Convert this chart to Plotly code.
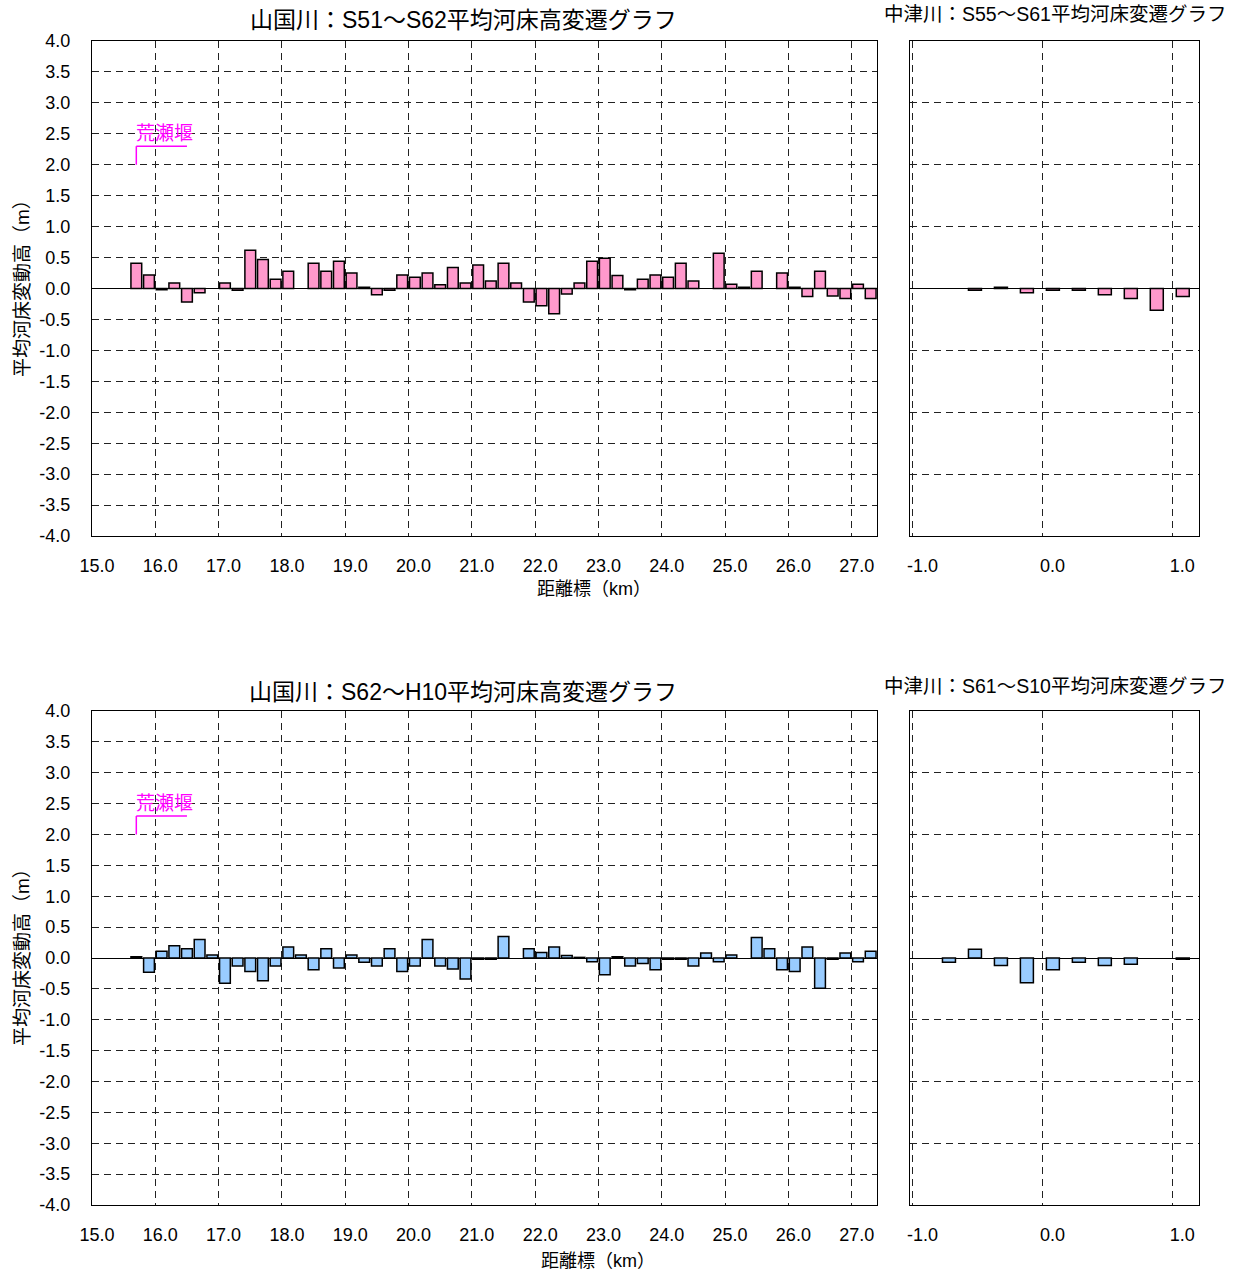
import plotly.graph_objects as go

# --- data -------------------------------------------------------------
# 山国川 distance markers (km) and mean riverbed change (m)
yamakuni_km = [15.6, 15.8, 16.0, 16.2, 16.4, 16.6, 16.8, 17.0, 17.2, 17.4,
               17.6, 17.8, 18.0, 18.2, 18.4, 18.6, 18.8, 19.0, 19.2, 19.4,
               19.6, 19.8, 20.0, 20.2, 20.4, 20.6, 20.8, 21.0, 21.2, 21.4,
               21.6, 21.8, 22.0, 22.2, 22.4, 22.6, 22.8, 23.0, 23.2, 23.4,
               23.6, 23.8, 24.0, 24.2, 24.4, 24.6, 24.8, 25.0, 25.2, 25.4,
               25.6, 25.8, 26.0, 26.2, 26.4, 26.6, 26.8, 27.0, 27.2]

yamakuni_s51_s62 = [0.41, 0.22, -0.02, 0.09, -0.22, -0.07, None, 0.09, -0.03, 0.62,
                    0.47, 0.15, 0.28, None, 0.41, 0.28, 0.44, 0.25, 0.02, -0.10,
                    -0.03, 0.22, 0.18, 0.25, 0.06, 0.34, 0.09, 0.38, 0.12, 0.41,
                    0.09, -0.22, -0.28, -0.41, -0.09, 0.09, 0.44, 0.49, 0.21, -0.02,
                    0.15, 0.22, 0.18, 0.41, 0.12, None, 0.57, 0.07, 0.02, 0.28,
                    None, 0.25, 0.02, -0.13, 0.28, -0.12, -0.16, 0.07, -0.16]

yamakuni_s62_h10 = [0.02, -0.23, 0.11, 0.20, 0.15, 0.30, 0.05, -0.41, -0.13, -0.22,
                    -0.37, -0.13, 0.18, 0.05, -0.19, 0.15, -0.16, 0.05, -0.07, -0.13,
                    0.15, -0.22, -0.13, 0.30, -0.13, -0.18, -0.34, -0.02, -0.02, 0.35,
                    None, 0.15, 0.09, 0.18, 0.04, 0.01, -0.06, -0.27, 0.02, -0.13,
                    -0.09, -0.19, -0.02, -0.02, -0.13, 0.08, -0.06, 0.05, None, 0.33,
                    0.15, -0.19, -0.22, 0.18, -0.49, -0.02, 0.08, -0.06, 0.11]

# 中津川 distance markers (km) and mean riverbed change (m)
nakatsu_km = [-0.8, -0.6, -0.4, -0.2, 0.0, 0.2, 0.4, 0.6, 0.8, 1.0]
nakatsu_s55_s61 = [None, -0.03, 0.02, -0.07, -0.03, -0.03, -0.10, -0.16, -0.35, -0.13]
nakatsu_s61_s10 = [-0.07, 0.14, -0.12, -0.40, -0.19, -0.07, -0.12, -0.10, None, -0.02]

# axis ticks
yamakuni_ticks = [15, 16, 17, 18, 19, 20, 21, 22, 23, 24, 25, 26, 27]
nakatsu_ticks = [-1.0, 0.0, 1.0]
left_yticks = [4.0, 3.5, 3.0, 2.5, 2.0, 1.5, 1.0, 0.5, 0.0, -0.5, -1.0,
               -1.5, -2.0, -2.5, -3.0, -3.5, -4.0]
right_yticks = [4, 3, 2, 1, 0, -1, -2, -3, -4]

titles = ["山国川：S51～S62平均河床高変遷グラフ",
          "中津川：S55～S61平均河床変遷グラフ",
          "山国川：S62～H10平均河床高変遷グラフ",
          "中津川：S61～S10平均河床変遷グラフ"]
weir_label = "荒瀬堰"
weir_km = 15.7

# --- layout helpers ------------------------------------------------------
W, H = 1238, 1275
FONT = "Liberation Sans, Arial, Noto Sans CJK JP, sans-serif"
PINK = "#FF99CC"
BLUE = "#99CCFF"
GRID = "#222222"
DASH = "7px,5px"


def xdom(x0, x1):
    return [x0 / W, x1 / W]


def ydom(top, bottom):
    return [1 - bottom / H, 1 - top / H]


LEFT_X = xdom(92, 877)
RIGHT_X = xdom(910, 1199)
TOP_Y = ydom(41, 536)
BOT_Y = ydom(711, 1205)

fig = go.Figure()

bar_line = dict(color="black", width=1.5)

fig.add_trace(go.Bar(x=yamakuni_km, y=yamakuni_s51_s62, xaxis="x", yaxis="y",
                     width=0.17, offset=0.015,
                     marker=dict(color=PINK, line=bar_line)))
fig.add_trace(go.Bar(x=nakatsu_km, y=nakatsu_s55_s61, xaxis="x2", yaxis="y2",
                     width=0.1, offset=0.03,
                     marker=dict(color=PINK, line=bar_line)))
fig.add_trace(go.Bar(x=yamakuni_km, y=yamakuni_s62_h10, xaxis="x3", yaxis="y3",
                     width=0.17, offset=0.015,
                     marker=dict(color=BLUE, line=bar_line)))
fig.add_trace(go.Bar(x=nakatsu_km, y=nakatsu_s61_s10, xaxis="x4", yaxis="y4",
                     width=0.1, offset=0.03,
                     marker=dict(color=BLUE, line=bar_line)))

tickfont = dict(family=FONT, size=18, color="black")


def xaxis(domain, anchor, rng, ticks, shift):
    return dict(domain=domain, anchor=anchor, range=rng, automargin=False,
                tickmode="array", tickvals=ticks,
                ticktext=[f"{t:.1f}" for t in ticks],
                tickfont=tickfont, ticks="", ticklabelshift=shift,
                ticklabelstandoff=13,
                showgrid=True, gridcolor=GRID, griddash=DASH, gridwidth=1,
                zeroline=False, showline=True, linecolor="black",
                linewidth=1, mirror=True, fixedrange=True)


def yaxis(domain, anchor, ticks, labels):
    return dict(domain=domain, anchor=anchor, range=[-4, 4], automargin=False,
                tickmode="array", tickvals=ticks,
                ticktext=[f"{t:.1f}" for t in ticks] if labels else None,
                showticklabels=labels,
                tickfont=tickfont, ticks="", ticklabelstandoff=17,
                showgrid=True, gridcolor=GRID, griddash=DASH, gridwidth=1,
                zeroline=True, zerolinecolor="black", zerolinewidth=1,
                showline=True, linecolor="black", linewidth=1, mirror=True,
                fixedrange=True)


fig.update_layout(
    width=W, height=H,
    margin=dict(l=0, r=0, t=0, b=0),
    paper_bgcolor="white", plot_bgcolor="white",
    showlegend=False, barmode="overlay",
    font=dict(family=FONT, color="black"),
    xaxis=xaxis(LEFT_X, "y", [15.0, 27.4], yamakuni_ticks, 5),
    yaxis=yaxis(TOP_Y, "x", left_yticks, True),
    xaxis2=xaxis(RIGHT_X, "y2", [-1.02, 1.205], nakatsu_ticks, 10),
    yaxis2=yaxis(TOP_Y, "x2", right_yticks, False),
    xaxis3=xaxis(LEFT_X, "y3", [15.0, 27.4], yamakuni_ticks, 5),
    yaxis3=yaxis(BOT_Y, "x3", left_yticks, True),
    xaxis4=xaxis(RIGHT_X, "y4", [-1.02, 1.205], nakatsu_ticks, 10),
    yaxis4=yaxis(BOT_Y, "x4", right_yticks, False),
)

ann = []
# panel titles
title_pos = [(463, 20, 23), (1055, 14, 19.5), (463, 692, 23), (1055, 686, 19.5)]
for text, (cx, cy, size) in zip(titles, title_pos):
    ann.append(dict(text=text, x=cx / W, y=1 - cy / H, xref="paper", yref="paper",
                    xanchor="center", yanchor="middle", showarrow=False,
                    font=dict(family=FONT, size=size, color="black")))

# axis titles
for cy in (284, 953):
    ann.append(dict(text="平均河床変動高（m）", x=22 / W, y=1 - cy / H,
                    xref="paper", yref="paper", textangle=-90,
                    xanchor="center", yanchor="middle", showarrow=False,
                    font=dict(family=FONT, size=19, color="black")))
for cx, cy in ((594, 589), (598, 1261)):
    ann.append(dict(text="距離標（km）", x=cx / W, y=1 - cy / H,
                    xref="paper", yref="paper",
                    xanchor="center", yanchor="middle", showarrow=False,
                    font=dict(family=FONT, size=18, color="black")))

# weir marker in both 山国川 panels
shapes = []
for xr, yr in (("x", "y"), ("x3", "y3")):
    ann.append(dict(text=weir_label, x=weir_km, y=2.33, xref=xr, yref=yr,
                    xanchor="left", yanchor="bottom", showarrow=False,
                    xshift=-2, yshift=-2,
                    font=dict(family=FONT, size=19, color="#FF00FF")))
    shapes.append(dict(type="line", xref=xr, yref=yr, x0=weir_km, x1=weir_km,
                       y0=2.0, y1=2.3, line=dict(color="#FF00FF", width=1.5)))
    shapes.append(dict(type="line", xref=xr, yref=yr, x0=weir_km, x1=16.5,
                       y0=2.3, y1=2.3, line=dict(color="#FF00FF", width=1.5)))

fig.update_layout(annotations=ann, shapes=shapes)

fig.write_html("out.html")
